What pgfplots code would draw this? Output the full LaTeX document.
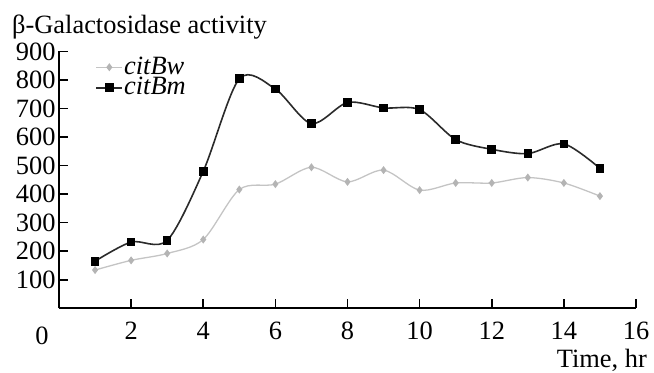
\documentclass[border=0pt]{standalone}
\usepackage{fontspec}
\setmainfont{Liberation Serif}
\usepackage{pgfplots}
\pgfplotsset{compat=1.18}
\definecolor{lgray}{HTML}{C4C4C4}
\definecolor{mgray}{HTML}{B4B4B4}
\definecolor{dline}{HTML}{2A2A2A}
\begin{document}
\begin{tikzpicture}[x=1bp,y=1bp,font=\fontsize{26.5}{29}\selectfont]
\begin{axis}[
  at={(59bp,64.7bp)}, anchor=south west,
  scale only axis, width=577bp, height=256.9bp,
  xmin=0, xmax=16, ymin=0, ymax=900,
  axis x line*=bottom, axis y line*=left,
  axis line style={line width=1.6bp, black},
  xtick={2,4,...,16}, ytick={100,200,...,900},
  tick align=inside, major tick length=9bp,
  tick style={line width=1.6bp, black},
  /pgf/number format/assume math mode=true,
  xticklabel style={yshift=-10bp},
  legend style={at={(axis description cs:0.063,0.978)}, anchor=north west, draw=none, fill=none,
    font=\itshape\fontsize{26.5}{29}\selectfont, row sep=0.5bp, inner sep=0pt,
    nodes={inner sep=1bp, text height=16bp, text depth=2bp}},
  legend cell align=left,
  legend image code/.code={\draw[mark repeat=2,mark phase=2] plot coordinates {(0bp,0bp)(13bp,0bp)(26bp,0bp)};},
  clip=false,
]
\addplot[smooth, color=lgray, line width=1.3bp, mark=diamond*, mark size=3bp,
  mark options={fill=mgray, draw=mgray}] coordinates {
(1,134)(2,168)(3,192)(4,241)(5,416)(6,435)(7,494)(8,443)(9,484)(10,414)(11,439)(12,439)(13,458)(14,439)(15,393)};
\addlegendentry{citBw}
\addplot[smooth, color=dline, line width=1.6bp, mark=square*, mark size=3.5bp,
  mark options={fill=black, draw=black}] coordinates {
(1,165)(2,232)(3,238)(4,480)(5,804)(6,768)(7,647)(8,721)(9,702)(10,696)(11,591)(12,557)(13,542)(14,576)(15,490)};
\addlegendentry{citBm}
\node[anchor=north, yshift=-10bp, xshift=-17bp, inner sep=8.83bp] at (axis cs:0,0) {0};
\end{axis}
\node[anchor=base west, inner sep=0pt] at (12bp,339bp) {β-Galactosidase activity};
\node[anchor=base east, inner sep=0pt] at (647bp,6bp) {Time, hr};
\pgfresetboundingbox
\path (0bp,0bp) rectangle (654bp,373bp);
\end{tikzpicture}
\end{document}
